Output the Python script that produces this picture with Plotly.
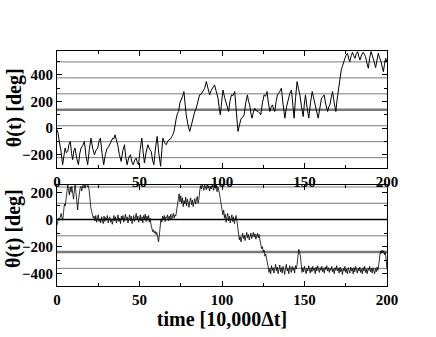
"""Two stacked traces of theta(t) in degrees over 200 x 10,000 time steps."""

import numpy as np
import plotly.graph_objects as go

# top panel: (time, theta) points
top_points = [
    (0, -12), (0.7, -40), (1.4, -100), (2.4, -170), (3.4, -275), (4.1, -200), (4.9, -150),
    (5.7, -185), (6.5, -175), (7.3, -120), (8.1, -100), (8.8, -190), (9.5, -237), (10.2, -170),
    (10.9, -150), (12.0, -230), (13.0, -275), (13.8, -190), (14.6, -150), (15.6, -130),
    (16.6, -100), (17.6, -210), (18.6, -275), (19.6, -160), (20.6, -75), (21.6, -150),
    (22.7, -200), (23.7, -165), (24.7, -150), (25.5, -95), (26.3, -75), (27.3, -190),
    (28.3, -275), (29.3, -200), (30.4, -150), (31.1, -145), (31.8, -125), (32.8, -110),
    (33.8, -75), (34.5, -80), (35.2, -50), (36.0, -90), (36.8, -125), (37.8, -200),
    (38.9, -250), (39.9, -170), (40.9, -125), (41.7, -220), (42.5, -275), (43.5, -220),
    (44.5, -200), (45.4, -255), (46.2, -275), (47.1, -240), (48.0, -225), (48.7, -260),
    (49.4, -275), (50.4, -160), (51.4, -75), (52.2, -180), (53.0, -262), (54.0, -180),
    (55.1, -125), (56.1, -160), (57.1, -175), (57.9, -240), (58.7, -275), (59.7, -150),
    (60.7, -62), (61.7, -190), (62.8, -287), (63.5, -170), (64.2, -75), (65.2, -110),
    (66.2, -125), (67.2, -95), (68.2, -87), (68.9, -80), (69.6, -62), (70.2, -50),
    (70.9, -25), (71.6, 40), (72.3, 75), (73.0, 110), (73.7, 125), (74.5, 190), (75.3, 225),
    (76.1, 240), (76.9, 275), (77.6, 180), (78.3, 100), (79.3, 30), (80.4, -25), (81.4, 20),
    (82.4, 75), (83.4, 120), (84.4, 150), (85.4, 210), (86.4, 250), (87.4, 255), (88.5, 275),
    (89.5, 300), (90.5, 350), (91.5, 290), (92.5, 250), (93.5, 285), (94.5, 300), (95.0, 315),
    (95.5, 325), (96.5, 270), (97.6, 225), (98.3, 150), (99.0, 100), (99.8, 200),
    (100.6, 287), (101.6, 230), (102.6, 187), (103.3, 150), (104.0, 125), (104.8, 200),
    (105.7, 250), (106.7, 245), (107.7, 275), (108.7, 120), (109.7, -25), (110.7, 30),
    (111.7, 75), (112.5, 80), (113.4, 100), (114.4, 190), (115.4, 250), (116.1, 200),
    (116.8, 175), (117.5, 110), (118.2, 75), (119.0, 120), (119.8, 150), (120.8, 130),
    (121.9, 125), (122.7, 115), (123.5, 100), (124.5, 190), (125.5, 250), (126.4, 240),
    (127.3, 275), (128.1, 190), (129.0, 125), (129.8, 160), (130.6, 175), (131.3, 140),
    (132.0, 125), (132.8, 200), (133.6, 250), (134.8, 270), (136.0, 300), (137.0, 180),
    (138.1, 75), (139.1, 160), (140.1, 225), (141.1, 260), (142.1, 287), (142.9, 170),
    (143.7, 75), (144.6, 230), (145.5, 350), (146.3, 300), (147.2, 250), (148.2, 160),
    (149.2, 87), (149.9, 180), (150.6, 250), (151.6, 150), (152.6, 75), (153.6, 190),
    (154.7, 275), (155.3, 240), (155.9, 212), (157.1, 140), (158.3, 75), (159.3, 160),
    (160.3, 225), (161.1, 235), (161.9, 250), (162.9, 180), (164.0, 125), (164.7, 160),
    (165.4, 175), (166.2, 230), (167.0, 275), (168.0, 190), (169.0, 125), (169.7, 210),
    (170.4, 275), (171.0, 340), (171.7, 400), (172.3, 440), (172.9, 462), (173.7, 500),
    (174.5, 525), (175.3, 550), (176.1, 562), (176.8, 520), (177.5, 500), (178.3, 545),
    (179.1, 570), (179.8, 545), (180.6, 525), (181.4, 560), (182.2, 575), (182.9, 540),
    (183.6, 512), (184.6, 550), (185.6, 570), (186.3, 555), (187.0, 537), (187.8, 490),
    (188.7, 450), (189.5, 530), (190.3, 575), (191.0, 550), (191.7, 525), (192.4, 490),
    (193.1, 455), (193.9, 520), (194.7, 562), (195.5, 530), (196.4, 500), (197.1, 460),
    (197.8, 425), (198.5, 480), (199.2, 525), (200, 500),
]
top_t = [p[0] for p in top_points]
top_theta = [p[1] for p in top_points]

# bottom panel: theta sampled every 0.5 time units, t = 0 ... 200
bottom_theta = [
    -42, -10, 12, -5, 30, 45, 15, -5, 60, 115, 100, 160, 200, 255, 215, 180, 240, 200, 245, 175,
    150, 210, 257, 200, 120, 70, 140, 195, 230, 245, 210, 250, 235, 262, 230, 255, 270, 240, 250, 215,
    140, 90, 60, 25, 10,
    25, -10, 30, -20, 10, 35, -15, 5, -25, 20, 0, -30, 25, -15, 15, -5, 30, -25, 10, 20,
    -20, 5, -35, 15, 30, -10, 20, -25, 5, 35, -15, 10, -30, 25, 0, 30, -20, 15, 40, -5,
    20, -25, 10, 35, -10, 25, -30, 5, 30, -15, 20, 45, 0, 25, -20, 15, 35, -10, 20, -25,
    30, 5, 40, -15, 25, -5, 30, -20, 10,
    -40, -60, -90, -75, -100, -85, -110, -95, -130, -165, -120, -60, 5,
    -20, 25, 0, 30, -15, 20, 10, 35, -10, 25, 5, 40, 0, 20, 45, 10, 35, 25, 60,
    110, 150, 190, 130, 175, 120, 160, 95, 140, 115, 165, 100, 150, 125, 90, 140, 160, 110,
    145, 95, 130, 155, 115, 140, 170, 120, 150,
    210, 250, 225, 265, 235, 215, 255, 240, 220, 260, 230, 250, 210, 245, 225, 260, 235, 215,
    250, 230, 255, 205, 240, 220, 190,
    150, 110, 60, 35, 70, 10, 40, -20, 20, 45, -10, 25, -25, 15, 35, -15, 20, -30, 10, 30,
    -5, -60,
    -110, -150, -125, -165, -135, -100, -140, -115, -155, -120, -95, -135, -110, -150, -125,
    -100, -140, -115, -95, -130, -105, -145, -120, -100, -135, -110, -150,
    -185, -215, -200, -240, -225, -270, -255, -300, -330,
    -350, -390, -360, -400, -340, -375, -355, -395, -365, -330, -380, -350, -400, -360, -335,
    -385, -355, -395, -345, -375, -405, -355, -330, -380, -360, -400, -340, -370, -390, -345,
    -375, -355, -395, -340, -365, -330, -280, -220, -240, -270, -330,
    -390, -355, -385, -345, -375, -400, -360, -380, -340, -370, -395, -355, -385, -345, -375,
    -360, -400, -350, -380, -340, -370, -390, -355, -375, -345, -385, -360, -395, -350, -370,
    -340, -380, -355, -390, -360, -375, -345, -385, -365, -400, -355, -375, -340, -380, -360,
    -395, -350, -385, -365, -405, -360, -380, -345, -390, -365, -400, -355, -375, -395, -350,
    -380, -360, -400, -355, -385, -345, -375, -395, -360, -380, -350, -390, -365, -400, -355,
    -380, -345, -390, -365, -400, -360, -375, -345, -385, -360, -395, -355, -380, -400, -360,
    -385, -350, -375, -330,
    -280, -235, -250, -225, -245, -230, -260, -240, -300, -370,
]
bottom_t = np.arange(len(bottom_theta)) * 0.5

# horizontal reference lines
top_lines = [-222, -102, 18, 258, 378, 498]
top_thick_line = 138
bottom_lines = [-360, -120, 120, 240]
bottom_thick_line = -240
bottom_zero_line = 0

x_ticks = [0, 50, 100, 150, 200]

SERIF = "Liberation Serif"

fig = go.Figure()
fig.add_trace(go.Scatter(x=top_t, y=top_theta, mode="lines",
                         line=dict(color="black", width=1), xaxis="x", yaxis="y"))
fig.add_trace(go.Scatter(x=bottom_t, y=bottom_theta, mode="lines",
                         line=dict(color="black", width=0.8), xaxis="x2", yaxis="y2"))

for v in top_lines:
    fig.add_shape(type="line", xref="x domain", yref="y", x0=0, x1=1, y0=v, y1=v,
                  line=dict(color="#7a7a7a", width=1), layer="below")
fig.add_shape(type="line", xref="x domain", yref="y", x0=0, x1=1,
              y0=top_thick_line, y1=top_thick_line,
              line=dict(color="#7a7a7a", width=2.5), layer="below")
for v in bottom_lines:
    fig.add_shape(type="line", xref="x2 domain", yref="y2", x0=0, x1=1, y0=v, y1=v,
                  line=dict(color="#7a7a7a", width=1), layer="below")
fig.add_shape(type="line", xref="x2 domain", yref="y2", x0=0, x1=1,
              y0=bottom_thick_line, y1=bottom_thick_line,
              line=dict(color="#7a7a7a", width=2.5), layer="below")
fig.add_shape(type="line", xref="x2 domain", yref="y2", x0=0, x1=1,
              y0=bottom_zero_line, y1=bottom_zero_line,
              line=dict(color="black", width=1.5), layer="below")

tickfont = dict(family=SERIF, size=15, color="black", weight="bold")
axis_common = dict(showline=True, linecolor="black", linewidth=1, mirror="ticks",
                   ticks="inside", ticklen=5, tickcolor="black", showgrid=False,
                   zeroline=False, tickfont=tickfont, automargin=False)

fig.update_layout(
    width=436, height=337,
    margin=dict(l=57, r=49, t=51, b=51),
    paper_bgcolor="white", plot_bgcolor="white",
    showlegend=False,
    xaxis=dict(axis_common, domain=[0, 1], range=[0, 200], tickvals=x_ticks,
               anchor="y", minor=dict(ticks="inside", ticklen=3, dtick=25,
                                      tickcolor="black")),
    yaxis=dict(axis_common, domain=[0.502, 1], range=[-300, 580], dtick=200,
               anchor="x", minor=dict(ticks="inside", ticklen=3, dtick=100,
                                      tickcolor="black")),
    xaxis2=dict(axis_common, domain=[0, 1], range=[0, 200], tickvals=x_ticks,
                anchor="y2", minor=dict(ticks="inside", ticklen=3, dtick=25,
                                        tickcolor="black"),
                title=dict(text="time [10,000Δt]", standoff=0,
                           font=dict(family=SERIF, size=20, color="black",
                                     weight="bold"))),
    yaxis2=dict(axis_common, domain=[0, 0.43], range=[-490, 255], dtick=200,
                anchor="x2", minor=dict(ticks="inside", ticklen=3, dtick=100,
                                        tickcolor="black")),
)

title_font = dict(family=SERIF, size=20, color="black", weight="bold")
fig.add_annotation(text="θ(t) [deg]", xref="paper", yref="paper", x=-0.13, y=0.757,
                   textangle=-90, showarrow=False, font=title_font,
                   xanchor="center", yanchor="middle")
fig.add_annotation(text="θ(t) [deg]", xref="paper", yref="paper", x=-0.13, y=0.243,
                   textangle=-90, showarrow=False, font=title_font,
                   xanchor="center", yanchor="middle")

# drop the default page margin so the figure sits at the window's corner
fig.write_html("out.html", config={"displayModeBar": False},
               post_script="document.body.style.margin = '0';")
